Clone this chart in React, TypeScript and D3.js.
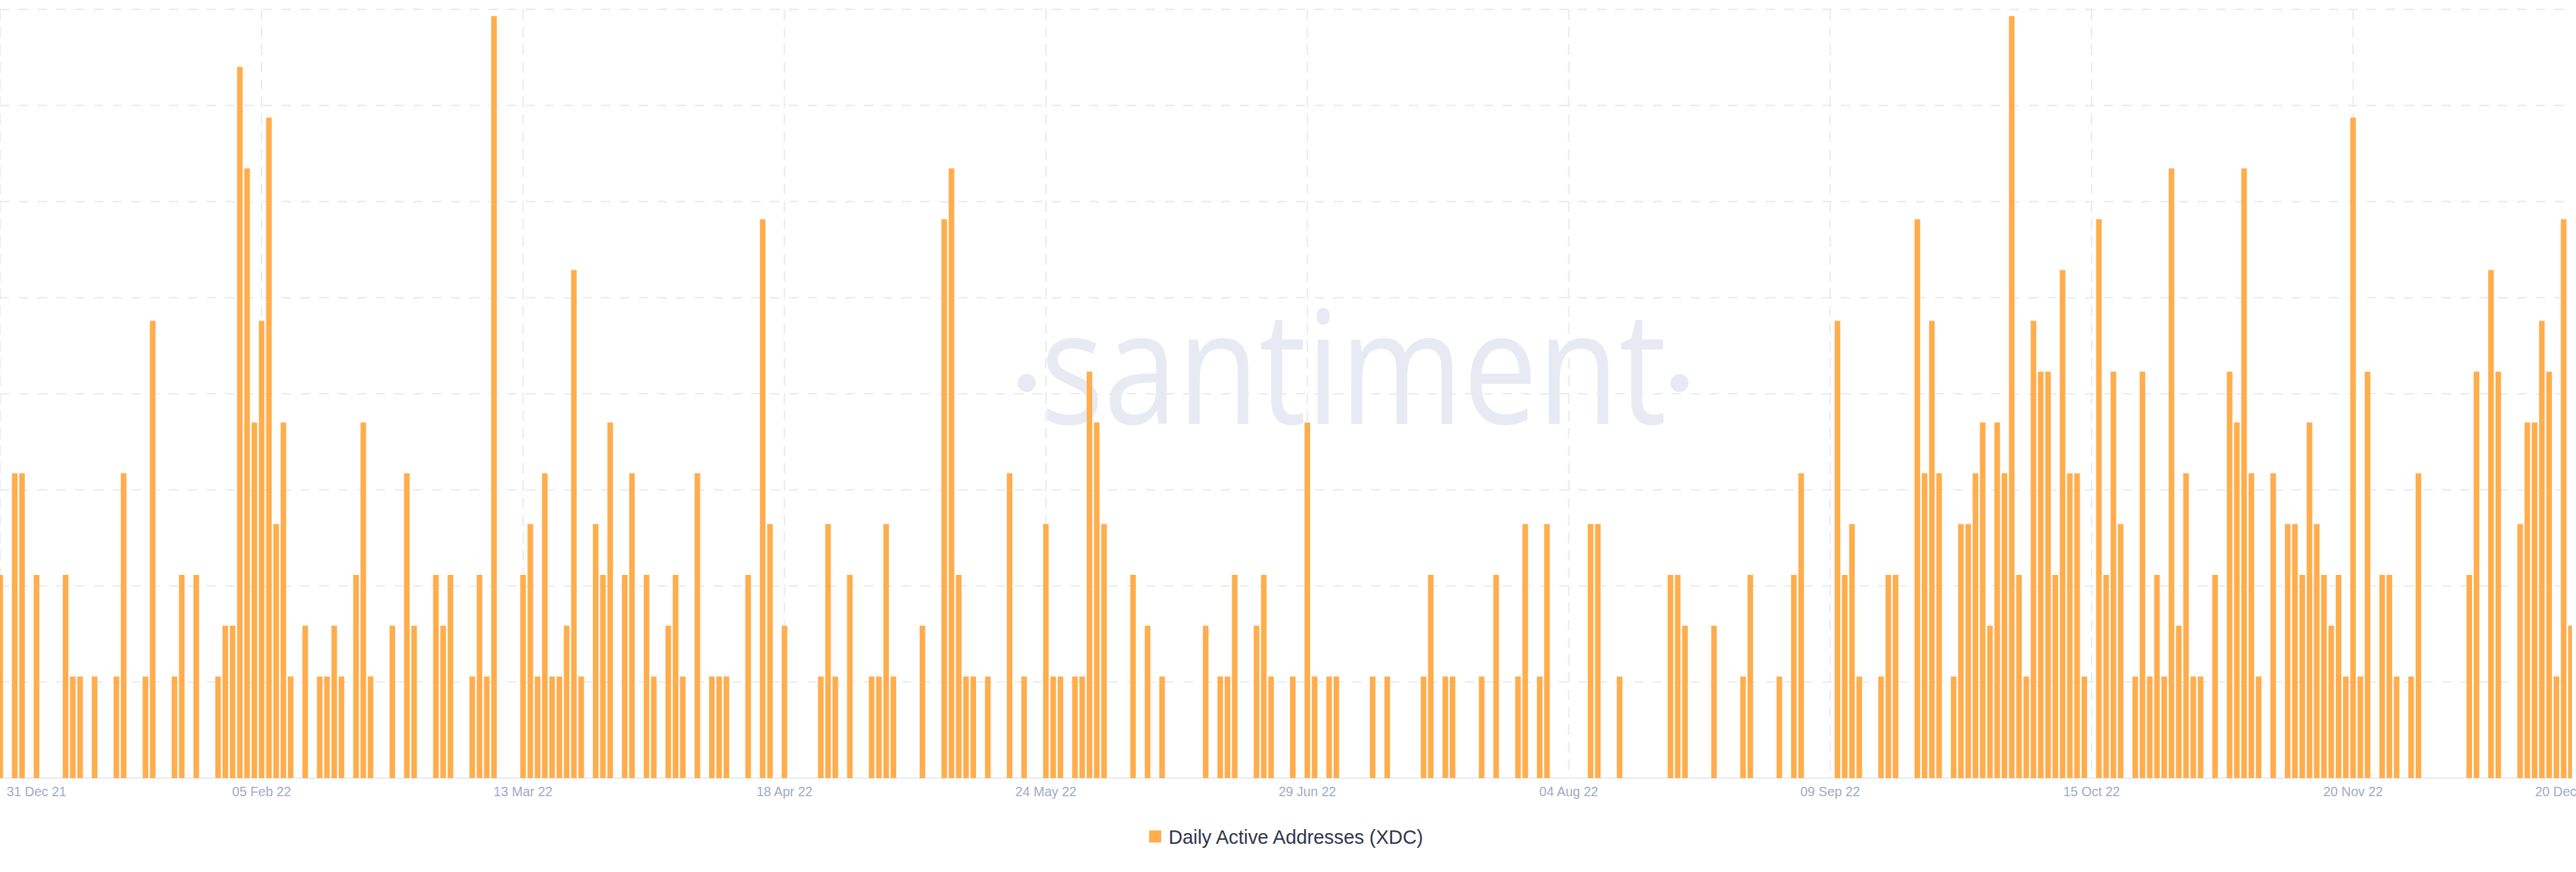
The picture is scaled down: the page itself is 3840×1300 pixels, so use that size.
import React from "react";
import * as d3 from "d3";

// Daily Active Addresses (XDC), one value per day (0 = no bar)
const dec2021Tail = [4]; // 31 Dec 2021
const jan2022 = [0, 6, 6, 0, 4, 0, 0, 0, 4, 2, 2, 0, 2, 0, 0, 2, 6, 0, 0, 2, 9, 0, 0, 2, 4, 0, 4, 0, 0, 2, 3];
const feb2022 = [3, 14, 12, 7, 9, 13, 5, 7, 2, 0, 3, 0, 2, 2, 3, 2, 0, 4, 7, 2, 0, 0, 3, 0, 6, 3, 0, 0];
const mar2022 = [4, 3, 4, 0, 0, 2, 4, 2, 15, 0, 0, 0, 4, 5, 2, 6, 2, 2, 3, 10, 2, 0, 5, 4, 7, 0, 4, 6, 0, 4, 2];
const apr2022 = [0, 3, 4, 2, 0, 6, 0, 2, 2, 2, 0, 0, 4, 0, 11, 5, 0, 3, 0, 0, 0, 0, 2, 5, 2, 0, 4, 0, 0, 2];
const may2022 = [2, 5, 2, 0, 0, 0, 3, 0, 0, 11, 12, 4, 2, 2, 0, 2, 0, 0, 6, 0, 2, 0, 0, 5, 2, 2, 0, 2, 2, 8, 7];
const jun2022 = [5, 0, 0, 0, 4, 0, 3, 0, 2, 0, 0, 0, 0, 0, 3, 0, 2, 2, 4, 0, 0, 3, 4, 2, 0, 0, 2, 0, 7, 2];
const jul2022 = [0, 2, 2, 0, 0, 0, 0, 2, 0, 2, 0, 0, 0, 0, 2, 4, 0, 2, 2, 0, 0, 0, 2, 0, 4, 0, 0, 2, 5, 0, 2];
const aug2022 = [5, 0, 0, 0, 0, 0, 5, 5, 0, 0, 2, 0, 0, 0, 0, 0, 0, 4, 4, 3, 0, 0, 0, 3, 0, 0, 0, 2, 4, 0, 0];
const sep2022 = [0, 2, 0, 4, 6, 0, 0, 0, 0, 9, 4, 5, 2, 0, 0, 2, 4, 4, 0, 0, 11, 6, 9, 6, 0, 2, 5, 5, 6, 7];
const oct2022 = [3, 7, 6, 15, 4, 2, 9, 8, 8, 4, 10, 6, 6, 2, 0, 11, 4, 8, 5, 0, 2, 8, 2, 4, 2, 12, 3, 6, 2, 2, 0];
const nov2022 = [4, 0, 8, 7, 12, 6, 2, 0, 6, 0, 5, 5, 4, 7, 5, 4, 3, 4, 2, 13, 2, 8, 0, 4, 4, 2, 0, 2, 6, 0];
const dec2022 = [0, 0, 0, 0, 0, 4, 8, 0, 10, 8, 0, 0, 5, 7, 7, 9, 8, 2, 11, 3];

const monthStarts = [
  "2021-12-31", "2022-01-01", "2022-02-01", "2022-03-01", "2022-04-01", "2022-05-01", "2022-06-01",
  "2022-07-01", "2022-08-01", "2022-09-01", "2022-10-01", "2022-11-01", "2022-12-01",
];
const monthValues = [
  dec2021Tail, jan2022, feb2022, mar2022, apr2022, may2022, jun2022,
  jul2022, aug2022, sep2022, oct2022, nov2022, dec2022,
];

const tickDates = [
  "2021-12-31", "2022-02-05", "2022-03-13", "2022-04-18", "2022-05-24", "2022-06-29",
  "2022-08-04", "2022-09-09", "2022-10-15", "2022-11-20", "2022-12-20",
];
const tickLabels = [
  "31 Dec 21", "05 Feb 22", "13 Mar 22", "18 Apr 22", "24 May 22", "29 Jun 22",
  "04 Aug 22", "09 Sep 22", "15 Oct 22", "20 Nov 22", "20 Dec 22",
];
const seriesName = "Daily Active Addresses (XDC)";
const watermark = "santiment";

const W = 3840;
const H = 1300;
const BAR = "#FFAD4D";
const GRID = "#E7EAF3";
const TICK = "#9FAAC4";
const DAY = 86400000;

const parse = (s: string) => new Date(s + "T00:00:00Z");

const data: { date: Date; value: number }[] = [];
monthStarts.forEach((m, i) => {
  const start = parse(m).getTime();
  monthValues[i].forEach((v, k) => {
    data.push({ date: new Date(start + k * DAY), value: v });
  });
});

export default function App() {
  const plotLeft = 0;
  const plotRight = 3834;
  const baseY = 1160;
  const topY = 14;

  const x = d3
    .scaleUtc()
    .domain([parse(tickDates[0]), parse(tickDates[tickDates.length - 1])])
    .range([0.3, 3832.4]);
  const maxV = d3.max(data, (d) => d.value) as number;
  const yMax = maxV * 1.0087;
  const y = d3.scaleLinear().domain([0, yMax]).range([baseY, topY]);
  const gridVals = d3.range(1, 9).map((i) => (yMax * i) / 8);
  const step = x(new Date(parse(tickDates[0]).getTime() + DAY)) - x(parse(tickDates[0]));
  const bw = step * 0.77;

  return (
    <svg
      width={W}
      height={H}
      style={{ position: "absolute", left: 0, top: 0, background: "#fff" }}
    >
      <defs>
        <clipPath id="plot">
          <rect x={plotLeft} y={0} width={plotRight - plotLeft} height={baseY} />
        </clipPath>
      </defs>
      <rect x={0} y={0} width={W} height={H} fill="#fff" />
      {/* watermark */}
      <g fill="#E7EAF3">
        <text
          x={2017.5}
          y={632}
          textAnchor="middle"
          fontFamily="'Open Sans', sans-serif"
          fontSize={235}
          textLength={933}
          lengthAdjust="spacingAndGlyphs"
        >
          {watermark}
        </text>
        <circle cx={1530.5} cy={571} r={13.5} />
        <circle cx={2503.5} cy={571} r={13.5} />
      </g>
      {/* horizontal grid */}
      <g clipPath="url(#plot)">
        {gridVals.map((v, i) => (
          <line
            key={i}
            x1={plotLeft}
            x2={plotRight}
            y1={y(v)}
            y2={y(v)}
            stroke={GRID}
            strokeWidth={2}
            strokeDasharray="14 14"
          />
        ))}
        {tickDates.slice(0, -1).map((t, i) => (
          <line
            key={"v" + i}
            x1={x(parse(t))}
            x2={x(parse(t))}
            y1={topY}
            y2={baseY}
            stroke={GRID}
            strokeWidth={2}
            strokeDasharray="16 10"
          />
        ))}
      </g>
      <line x1={plotLeft} x2={plotRight} y1={baseY} y2={baseY} stroke={GRID} strokeWidth={2} />
      {/* bars */}
      <g clipPath="url(#plot)">
        {data
          .filter((d) => d.value > 0)
          .map((d, i) => (
            <rect
              key={i}
              x={x(d.date) - bw / 2}
              y={y(d.value)}
              width={bw}
              height={baseY - y(d.value)}
              fill={BAR}
            />
          ))}
      </g>
      {/* x tick labels */}
      <g fontFamily="'Liberation Sans', Arial, sans-serif" fontSize={19.5} fill={TICK}>
        {tickDates.map((t, i) => {
          const px = x(parse(t));
          const first = i === 0;
          const last = i === tickDates.length - 1;
          return (
            <text
              key={i}
              x={first ? 10 : last ? px - 9 : px}
              y={1187}
              textAnchor={first ? "start" : "middle"}
            >
              {tickLabels[i]}
            </text>
          );
        })}
      </g>
      {/* legend */}
      <g>
        <rect x={1713} y={1238} width={18} height={18} fill={BAR} />
        <text
          x={1742}
          y={1258}
          fontFamily="'Liberation Sans', Arial, sans-serif"
          fontSize={28.8}
          fill="#2F354D"
        >
          {seriesName}
        </text>
      </g>
    </svg>
  );
}
